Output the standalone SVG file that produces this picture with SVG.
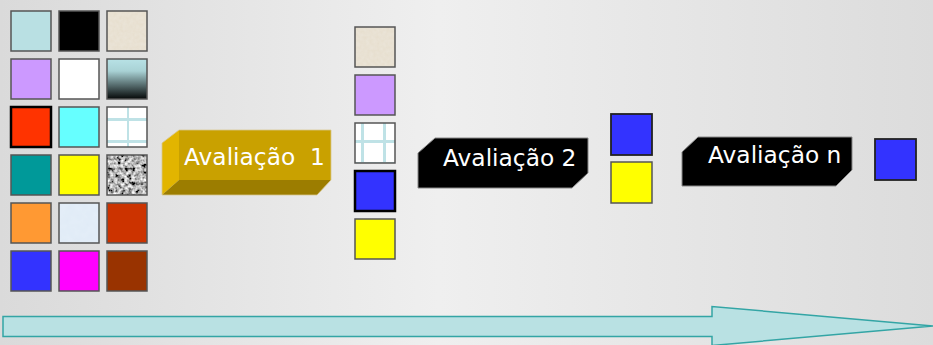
<svg xmlns="http://www.w3.org/2000/svg" width="933" height="345" viewBox="0 0 933 345">
<defs>
<linearGradient id="bg" x1="0" y1="0" x2="1" y2="0">
<stop offset="0" stop-color="#dadada"/>
<stop offset="0.47" stop-color="#efefef"/>
<stop offset="1" stop-color="#dcdcdc"/>
</linearGradient>
<linearGradient id="fade" x1="0" y1="0" x2="0" y2="1">
<stop offset="0" stop-color="#b8e2e6"/>
<stop offset="0.3" stop-color="#a9d2d5"/>
<stop offset="1" stop-color="#050808"/>
</linearGradient>
<pattern id="grid1" x="107" y="107" width="22" height="22" patternUnits="userSpaceOnUse">
<rect width="22" height="22" fill="#ffffff"/>
<rect x="20" y="0" width="3" height="22" fill="#bfe2e6"/>
<rect x="0" y="11" width="22" height="3" fill="#bfe2e6"/>
</pattern>
<pattern id="grid2" x="355" y="123" width="22" height="22" patternUnits="userSpaceOnUse">
<rect width="22" height="22" fill="#ffffff"/>
<rect x="6" y="0" width="3" height="22" fill="#bfe2e6"/>
<rect x="0" y="17" width="22" height="3" fill="#bfe2e6"/>
</pattern>
<filter id="beige" x="0" y="0" width="1" height="1">
<feTurbulence type="fractalNoise" baseFrequency="0.3" numOctaves="2" seed="3" result="n"/>
<feColorMatrix in="n" type="matrix" values="0 0 0 0 0.84  0 0 0 0 0.80  0 0 0 0 0.72  0 0 0 -0.8 0.8" result="c"/>
<feComposite in="c" in2="SourceGraphic" operator="in"/>
</filter>
<filter id="granite" x="0" y="0" width="1" height="1">
<feTurbulence type="fractalNoise" baseFrequency="0.28" numOctaves="2" seed="7" result="n"/>
<feColorMatrix in="n" type="matrix" values="2 0 0 0 -0.55  2 0 0 0 -0.55  2 0 0 0 -0.55  0 0 0 0 1" result="c"/>
<feComposite in="c" in2="SourceGraphic" operator="in"/>
</filter>
<filter id="ice" x="0" y="0" width="1" height="1">
<feTurbulence type="fractalNoise" baseFrequency="0.12" numOctaves="2" seed="5" result="n"/>
<feColorMatrix in="n" type="matrix" values="0 0 0 0 0.80  0 0 0 0 0.87  0 0 0 0 0.95  0 0 0 -0.6 0.8" result="c"/>
<feComposite in="c" in2="SourceGraphic" operator="in"/>
</filter>
<style>
.sq{stroke:#555;stroke-width:1.5}
.sel{stroke:#000;stroke-width:2.5}
.dk{stroke:#222;stroke-width:1.8}
.lbl{font-family:"DejaVu Sans",Verdana,sans-serif;font-size:23.3px;fill:#ffffff}
.tag{fill:#000;stroke:#888;stroke-width:1}
</style>
</defs>
<rect width="933" height="345" fill="url(#bg)"/>

<g id="palette">
<rect class="sq" x="11" y="11" width="40" height="40" fill="#b9e0e3"/>
<rect class="sq" x="59" y="11" width="40" height="40" fill="#000000"/>
<rect x="107" y="11" width="40" height="40" fill="#e6ddcc"/>
<rect x="107" y="11" width="40" height="40" fill="#e6ddcc" filter="url(#beige)"/>
<rect x="107" y="11" width="40" height="40" fill="none" class="sq"/>

<rect class="sq" x="11" y="59" width="40" height="40" fill="#cc99ff"/>
<rect class="sq" x="59" y="59" width="40" height="40" fill="#ffffff"/>
<rect class="sq" x="107" y="59" width="40" height="40" fill="url(#fade)"/>

<rect class="sel" x="11" y="107" width="40" height="40" fill="#ff3300"/>
<rect class="sq" x="59" y="107" width="40" height="40" fill="#66ffff"/>
<rect class="sq" x="107" y="107" width="40" height="40" fill="url(#grid1)"/>

<rect class="sq" x="11" y="155" width="40" height="40" fill="#009999"/>
<rect class="sq" x="59" y="155" width="40" height="40" fill="#ffff00"/>
<rect x="107" y="155" width="40" height="40" fill="#999" filter="url(#granite)"/>
<rect x="107" y="155" width="40" height="40" fill="none" class="sq"/>

<rect class="sq" x="11" y="203" width="40" height="40" fill="#ff9933"/>
<rect x="59" y="203" width="40" height="40" fill="#dde9f5"/>
<rect x="59" y="203" width="40" height="40" fill="#dde9f5" filter="url(#ice)"/>
<rect x="59" y="203" width="40" height="40" fill="none" class="sq"/>
<rect class="sq" x="107" y="203" width="40" height="40" fill="#cc3300"/>

<rect class="sq" x="11" y="251" width="40" height="40" fill="#3333ff"/>
<rect class="sq" x="59" y="251" width="40" height="40" fill="#ff00ff"/>
<rect class="sq" x="107" y="251" width="40" height="40" fill="#993300"/>
</g>

<g id="eval1">
<polygon points="179,130 331,130 331,180 179,180" fill="#c9a100"/>
<polygon points="162,143 179,130 179,180 162,195" fill="#e2b500"/>
<polygon points="179,180 331,180 317,195 162,195" fill="#9c7d00"/>
<polygon points="162,143 179,130 331,130 331,180 317,195 162,195" fill="none" stroke="#d8c890" stroke-width="0.8"/>
<text class="lbl" x="184" y="165" xml:space="preserve">Avaliação  1</text>
</g>

<g id="result1">
<rect x="355" y="27" width="40" height="40" fill="#e6ddcc"/>
<rect x="355" y="27" width="40" height="40" fill="#e6ddcc" filter="url(#beige)"/>
<rect x="355" y="27" width="40" height="40" fill="none" class="sq"/>
<rect class="sq" x="355" y="75" width="40" height="40" fill="#cc99ff"/>
<rect class="sq" x="355" y="123" width="40" height="40" fill="url(#grid2)"/>
<rect class="sel" x="355" y="171" width="40" height="40" fill="#3333ff"/>
<rect class="sq" x="355" y="219" width="40" height="40" fill="#ffff00"/>
</g>

<g id="eval2">
<polygon class="tag" points="418,153 435,138 588,138 588,173 572,188 418,188"/>
<text class="lbl" x="443" y="165.5">Avaliação 2</text>
</g>

<g id="result2">
<rect class="dk" x="611" y="114" width="41" height="41" fill="#3333ff"/>
<rect class="sq" x="611" y="162" width="41" height="41" fill="#ffff00"/>
</g>

<g id="evaln">
<polygon class="tag" points="682,152 698,137 852,137 852,170 836,186 682,186"/>
<text class="lbl" x="708" y="163">Avaliação n</text>
</g>

<g id="resultn">
<rect class="dk" x="875" y="139" width="41" height="41" fill="#3333ff"/>
</g>

<g id="connectors">
<polygon points="3,316.5 712,316.5 712,306.5 933,326 712,345.5 712,336.5 3,336.5" fill="#b9e1e3" stroke="#33a5a5" stroke-width="1.5"/>
</g>
</svg>
